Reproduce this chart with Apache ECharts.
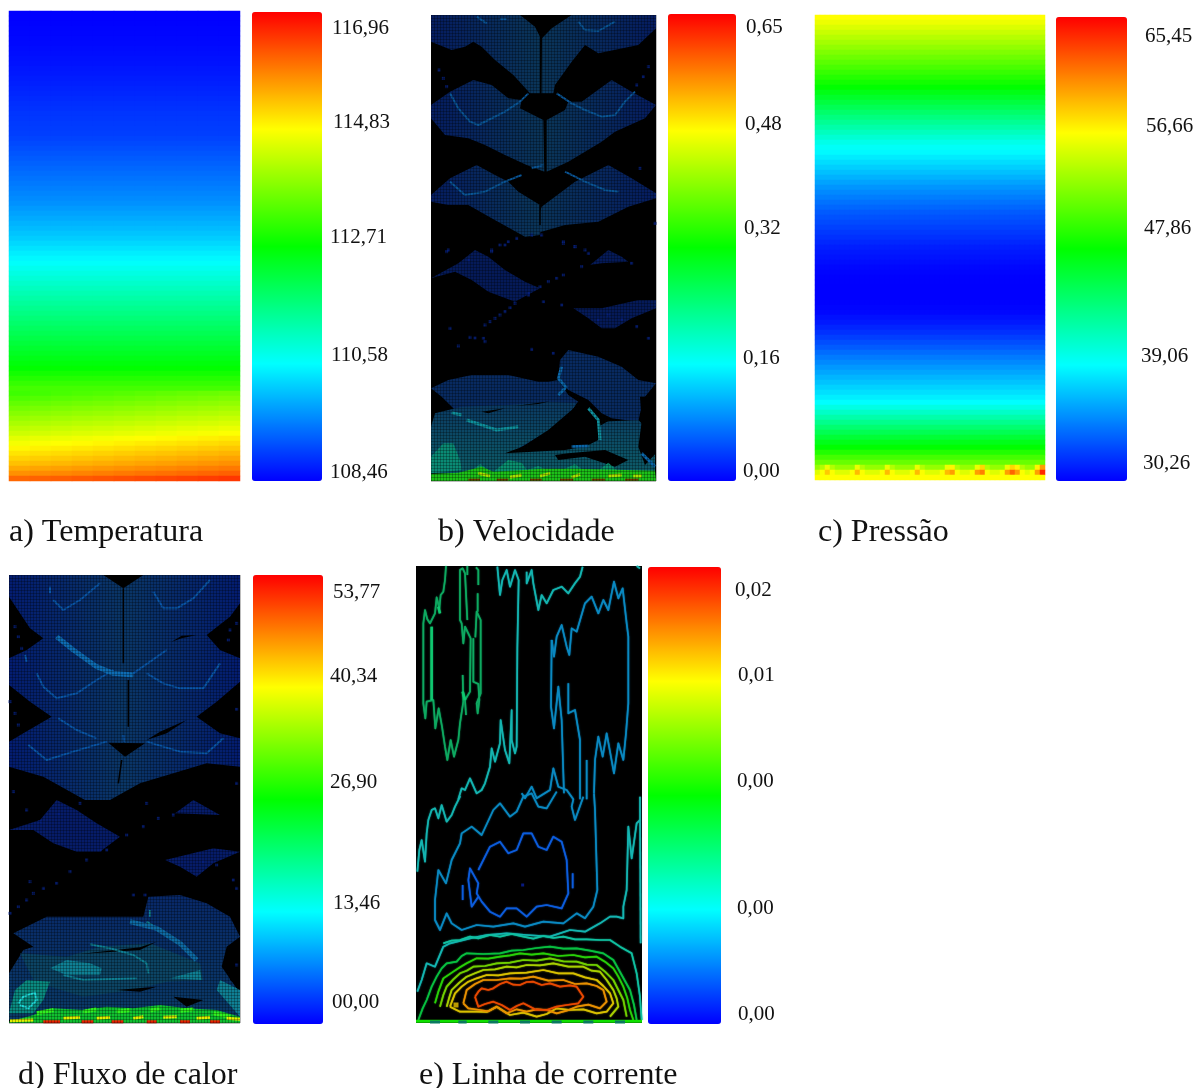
<!DOCTYPE html>
<html><head><meta charset="utf-8">
<style>html,body{margin:0;padding:0;background:#fff}#c{width:1202px;height:1088px}</style>
<script src="https://cdn.jsdelivr.net/npm/echarts@6/dist/echarts.min.js"></script>
</head><body><div id="c"></div>
<script>
/* ---------- colour scale ---------- */
const rainbow=['#0000ff','#00ffff','#00ff00','#ffff00','#ff0000'];

/* ---------- scale ticks ---------- */
const tempTicks=['116,96','114,83','112,71','110,58','108,46'];
const veloTicks=['0,65','0,48','0,32','0,16','0,00'];
const presTicks=['65,45','56,66','47,86','39,06','30,26'];
const fluxTicks=['53,77','40,34','26,90','13,46','00,00'];
const streamTicks=['0,02','0,01','0,00','0,00','0,00'];
const captions=['a) Temperatura','b) Velocidade','c) Pressão','d) Fluxo de calor','e) Linha de corrente'];

/* ---------- a) temperature, top to bottom ---------- */
const temperatureProfile=[108.46,108.47,108.48,108.49,108.5,108.52,108.53,108.55,108.57,108.59,108.61,108.64,108.66,108.69,108.72,108.75,108.78,108.81,108.84,
108.87,108.9,108.92,108.94,108.96,108.98,109.02,109.07,109.12,109.17,109.22,109.27,109.32,109.37,109.42,109.47,109.52,109.57,109.62,109.67,
109.74,109.81,109.88,109.95,110.02,110.09,110.17,110.26,110.35,110.44,110.53,110.62,110.72,110.82,110.92,111.02,111.12,111.22,111.32,111.42,111.52,111.62,
111.72,111.82,111.92,112.02,112.12,112.22,112.32,112.42,112.52,112.62,112.72,112.86,113.0,113.14,113.28,113.42,113.56,113.72,
113.87,114.02,114.17,114.32,114.47,114.62,114.8,114.95,115.1,115.25,115.4,115.55,115.75,115.95,116.3];
const temperatureTilt=[-0.2,-0.16,-0.12,-0.08,-0.04,0,0.04,0.08,0.12,0.16,0.2];

/* ---------- c) pressure, top to bottom ---------- */
const pressureProfile=[56.66,56.03,55.4,54.77,54.14,53.51,52.88,52.25,51.62,50.99,50.36,49.73,49.1,48.47,47.86,
47.13,46.4,45.67,44.94,44.21,43.48,42.75,42.02,41.29,40.56,39.83,39.3,38.9,
38.4,37.9,37.4,36.9,36.4,35.9,35.4,35,34.6,34.2,
33.8,33.4,33.1,32.8,32.5,32.2,31.9,31.6,31.3,31.1,30.9,30.7,
30.5,30.4,30.3,30.3,30.26,30.26,30.26,30.3,30.4,30.5,
30.8,31.1,31.5,31.9,32.4,32.9,33.4,34,
34.5,35,35.5,36,36.5,37,37.5,38,38.5,39.06,
40,41,42,43,44,45,46,47,47.86,
49,50.2,51.4];
const pressureBumpsUpper=[53,54,56,54,53,53,53,53,56,54,53,53,53,53,56,54,53,53,53,53,56,54,53,53,53,53,56,57,54,53,53,53,56,58,54,53,53,53,56,58,57,54,53,53,57,60];
const pressureBumpsLower=[55.5,56.5,58.5,56.5,55.5,55.5,55.5,56.5,59,56.5,55.5,55.5,55.5,56.5,59,56.5,55.5,55.5,55.5,56.5,59,56.5,55.5,55.5,55.5,56.5,59,60,56.5,55.5,55.5,56.5,60,61,56.5,55.5,55.5,56.5,60,62,60,56.5,55.5,56.5,60,64];
const pressureBase=[56.66];

/* ---------- b) velocity field regions (x, depth) ---------- */
const veloLeftPetals=[
[[18,30],[285,30],[330,65],[345,95],[345,265],[315,265],[265,210],[210,165],[170,125],[145,110],[120,125],[80,135],[18,110]],
[[18,300],[75,260],[145,225],[200,240],[250,280],[290,285],[285,310],[355,345],[358,500],[305,480],[240,450],[180,420],[130,400],[60,390],[18,340]],
[[18,570],[75,520],[155,480],[210,510],[250,530],[280,560],[345,600],[345,690],[300,695],[200,640],[130,600],[70,600],[18,590]]];
const veloRightPetals=[
[[440,30],[693,30],[693,70],[640,120],[520,145],[480,120],[440,170],[390,240],[385,265],[349,265],[351,100],[380,70]],
[[365,345],[420,315],[430,290],[470,290],[560,225],[620,260],[693,300],[660,340],[570,380],[530,410],[430,470],[365,500]],
[[350,605],[450,530],[480,515],[550,480],[620,520],[693,565],[693,580],[610,605],[520,650],[420,660],[350,680],[320,695]]];
const veloLowerNavy=[
[[18,115],[100,70],[150,30],[190,50],[240,90],[300,125],[345,145],[270,185],[190,155],[140,120],[90,95]],
[[445,205],[530,205],[640,180],[693,180],[693,205],[620,235],[570,265],[530,265],[490,235]],
[[495,75],[550,30],[590,50],[610,65],[530,70]]];
const veloLowerBlue=[
[[405,360],[430,330],[520,350],[590,380],[640,420],[693,430],[660,470],[645,520],[640,545],[560,535],[530,520],[490,480],[430,450],[400,420]],
[[18,445],[70,420],[140,405],[250,405],[340,425],[370,425],[400,420],[430,465],[460,485],[400,540],[340,600],[280,625],[100,520],[50,470]]];
const veloLowerTeal=[
[[30,520],[110,500],[250,495],[370,485],[455,490],[425,540],[340,590],[280,625],[240,640],[420,630],[480,620],[520,600],[525,545],[640,540],[690,590],[690,700],[18,700],[18,560]]];
const veloLowerBlack=[
[[285,625],[370,570],[440,510],[470,480],[510,510],[555,540],[520,560],[490,600],[430,620]],
[[390,645],[430,640],[540,630],[610,660],[570,680],[480,650],[400,660]],
[[645,470],[693,470],[693,640],[660,675],[640,620],[650,545]],
[[170,515],[240,505],[190,520]],[[270,498],[375,484],[340,492]]];
const veloHotspot=[[[18,650],[55,610],[85,610],[105,660],[110,690],[18,700]]];
const veloBumps=[[[205,695],[250,660],[290,668],[310,695]],[[400,695],[450,672],[480,695]],[[515,695],[550,668],[580,695]],[[130,700],[165,672],[205,700]],[[305,690],[340,678],[370,692]]];
const veloBand=[[[100,698],[170,680],[205,695],[300,690],[350,686],[450,686],[690,692],[693,723],[18,723],[18,702]]];
const veloBrightTop=[
[[155,35],[185,55]],[[225,42],[245,42]],[[460,50],[480,75],[520,78],[570,50]],
[[75,265],[100,310],[135,350],[160,360],[190,345],[240,320],[285,290],[310,265]],
[[395,265],[440,295],[480,315],[530,335],[570,330],[600,290],[630,260]],
[[75,530],[120,570],[180,560],[240,530],[290,510]],[[320,490],[355,480]],
[[420,500],[480,530],[540,555],[580,560]]];
const veloBlackSeams=[[[347,100],[347,265]],[[360,345],[360,470]],[[345,600],[345,660]]];
const veloDots=[[42,195],[55,220],[65,245],[670,185],[655,215],[635,240],[320,690],[275,700],[240,720],[200,740],[70,735],[350,690],[415,715],[450,725],[490,745],[645,490],[690,655]];
const veloDotsLow=[[65,35],[200,30],[225,15],[250,5],[415,5],[450,20],[480,30],[620,70],[180,255],[195,245],[210,235],[225,225],[240,215],[255,203],[270,190],[310,165],[345,140],[370,125],[395,115],[415,105],[470,80],[355,185],[410,195],[75,265],[135,292],[150,294],[175,295],[180,305],[100,318],[320,328],[385,340],[635,260],[670,295],[520,240],[550,225],[590,238],[130,60],[310,160]];
const veloTealBands=[[[125,540],[170,555],[215,570],[280,560]],[[80,518],[110,525]],[[490,505],[520,540],[525,600]]];
const veloBlueBands=[[[410,380],[400,415],[425,445]],[[400,465],[420,445]],[[440,620],[490,618]],[[650,640],[690,680]]];
const veloBandYellow=[[[160,700],[195,708]],[[255,712],[290,705]],[[345,708],[375,700]],[[440,712],[465,703]],[[550,708],[590,705]],[[625,708],[650,708]]];
const veloBandDark=[[[130,719],[165,719]],[[215,719],[250,719]],[[315,719],[350,719]],[[405,719],[445,719]],[[500,719],[540,719]],[[600,719],[640,719]]];

/* ---------- d) heat flux field regions ---------- */
const fluxBase=[[[27,15],[720,15],[720,590],[620,580],[520,610],[420,640],[330,690],[255,690],[130,620],[27,590]]];
const fluxBlack=[
[[310,15],[430,15],[370,55]],[[27,80],[90,175],[130,205],[80,240],[27,265]],[[720,100],[690,140],[620,195],[660,240],[720,265]],
[[27,345],[90,395],[155,440],[70,490],[27,515]],[[720,335],[650,395],[590,440],[660,490],[720,505]],[[325,518],[435,520],[375,560]],
[[440,510],[480,485],[560,450],[500,490]],[[515,215],[545,197],[590,195],[545,205]]];
const fluxLowerNavy=[
[[27,90],[120,60],[170,0],[230,30],[290,70],[360,110],[300,155],[230,155],[160,130],[100,90]],
[[525,40],[580,0],[660,45]],
[[495,180],[640,145],[720,155],[640,190],[590,230],[540,200]]];
const fluxLowerBlue=[[[40,400],[140,350],[430,350],[445,290],[540,285],[620,310],[690,350],[720,410],[680,440],[665,500],[720,580],[720,660],[27,660],[27,520],[70,450],[100,440]]];
const fluxLowerBlack=[[[680,490],[720,490],[720,560],[690,540]],[[350,570],[470,560],[420,575]],[[520,590],[610,600],[560,620]],[[240,462],[420,442],[470,425],[420,450]]];
const fluxLowerTeal=[[[60,460],[200,470],[300,440],[450,430],[600,490],[610,540],[500,545],[400,570],[250,590],[150,560],[100,540]]];
const fluxLowerAqua=[[[150,505],[200,480],[270,490],[305,505],[300,525],[200,525]],[[510,535],[600,510],[605,540]],[[660,540],[720,570],[720,650],[650,570]]];
const fluxHotspot=[[[27,640],[45,570],[80,540],[150,545],[130,600],[100,640]]];
const fluxBand=[[[27,665],[100,645],[160,625],[250,630],[320,620],[400,625],[480,615],[560,625],[650,630],[720,650],[720,675],[27,675]]];
const fluxBrightThin=[
[[150,50],[150,70]],[[160,90],[190,120],[240,90],[300,40]],[[460,65],[490,115],[530,115],[580,85],[630,30]],
[[400,310],[500,240]],[[110,310],[130,350],[170,385],[230,370],[290,330],[340,300]],[[440,310],[490,340],[540,355],[610,355],[660,280]],
[[175,445],[230,480],[290,505]],[[85,525],[140,570],[220,545],[320,515]],[[440,515],[540,545],[620,550],[670,505]],[[75,255],[80,275]],[[370,495],[372,515]]];
const fluxBrightThick=[[[170,200],[220,240],[290,290],[340,310],[400,315]],[[390,365],[470,385],[540,430],[590,480]]];
const fluxBlackSeams=[[[370,55],[370,280]],[[385,330],[385,470]],[[365,570],[355,640]]];
const fluxDotsLow=[[30,340],[55,320],[80,300],[100,280],[130,265],[170,250],[210,215],[260,180],[320,150],[380,105],[430,80],[475,55],[520,45],[120,65],[175,42],[300,150],[610,185],[650,195],[400,285],[435,285],[90,245],[700,240],[710,265],[710,495],[240,10],[440,10],[80,30]];
const fluxDotsTop=[[45,170],[55,200],[65,235],[685,210],[690,180],[710,160],[30,395],[45,430],[55,465],[710,418],[40,665],[710,640]];
const fluxCyanRing=[[[55,610],[70,590],[105,578],[110,600],[85,625],[60,615]]];
const fluxAquaLines=[[[190,525],[250,540],[410,535]],[[270,433],[330,445],[400,465],[440,490],[445,520]],[[450,330],[450,350]],[[440,365],[470,385]]];
const fluxYellow=[[[30,662],[100,660]],[[190,655],[240,652]],[[290,655],[330,652]],[[400,655],[430,650]],[[490,652],[530,650]],[[590,655],[630,652]],[[680,655],[720,658]]];
const fluxRed=[[[130,665],[180,665]],[[245,665],[280,665]],[[335,665],[370,665]],[[440,665],[470,665]],[[540,665],[570,665]],[[630,665],[660,665]]];
const fluxGreenSpots=[[[110,640],[160,630]],[[250,635],[290,628]],[[350,635],[390,630]],[[450,632],[480,625]],[[540,632],[580,628]],[[640,640],[690,650]]];

/* ---------- e) stream-function contours ---------- */
const streamUpperGreen=[
[[108,18],[105,60],[100,95],[92,105],[88,145],[80,112],[75,160],[60,190],[52,178],[45,150],[40,190],[40,430],[46,475],[50,425],[70,420],[76,505],[86,445],[96,500],[105,560],[112,600],[122,540],[132,590],[145,540],[150,490],[160,425],[158,345]],
[[168,465],[165,420],[180,395],[182,235],[165,200],[160,250],[155,190],[150,180],[150,30],[158,25],[165,40],[172,180]],
[[190,235],[190,365],[205,372],[208,420],[203,460],[200,430],[212,400],[212,180],[200,155],[196,232]],
[[172,18],[172,45]],[[198,22],[205,30],[205,75]],[[203,100],[203,155]]];
const streamUpperGreenThick=[[[65,200],[65,420]],[[85,140],[90,160]],[[158,395],[165,420]]];
const streamTealMid=[
[[262,20],[270,105],[277,60],[290,30],[300,80],[315,30],[326,60],[322,265],[320,560],[315,580],[305,540],[305,450],[298,610],[285,570],[272,480],[270,550],[255,605],[245,565],[240,620],[225,670],[215,690],[200,700],[180,655],[165,690],[155,685],[145,718],[150,710],[135,740],[125,765],[110,785],[95,735],[85,775],[75,745],[65,750],[55,780],[50,820],[45,905],[35,840],[28,870],[22,935]],
[[350,35],[350,70],[365,30],[370,70],[385,150],[395,105],[410,130],[430,90],[455,80],[475,100],[495,70],[510,50],[518,20]],
[[680,18],[690,25]],[[690,710],[692,1150]],
[[22,1295],[35,1260],[50,1210],[75,1220],[100,1160],[120,1150],[180,1135],[230,1125],[290,1120],[350,1125],[420,1130],[480,1110],[525,1115],[570,1090],[600,1070],[620,1070],[640,1075],[640,1040],[650,990],[655,800],[665,895],[680,790],[690,780]]];
const streamBlueUpper=[
[[425,240],[432,290],[440,230],[455,195],[470,260],[478,285],[485,205],[500,215],[525,130],[545,110],[565,160],[580,120],[595,150],[612,65],[625,115],[638,85],[650,190],[655,230],[655,430],[648,520],[640,600],[625,550],[612,640],[590,520],[578,590],[565,530],[555,600],[552,700]],
[[425,240],[423,440],[432,505],[445,380],[455,480],[460,640],[462,700]],[[475,370],[475,460],[495,450],[510,540],[510,718]],[[530,600],[530,718]],
[[335,700],[345,715],[365,680],[380,715],[420,690],[430,625],[445,680],[470,690],[490,718],[485,740],[495,780],[520,710]],[[552,700],[555,750],[562,990],[550,1040],[525,1075],[500,1060],[460,1090],[400,1085],[345,1100],[310,1090],[250,1100],[200,1095],[155,1110],[125,1090],[110,1060],[90,1110],[75,1080],[75,1020],[85,930],[108,970],[125,900],[150,850],[155,820],[185,800],[215,825],[250,750],[270,730],[300,770],[320,755],[340,710],[365,700],[385,740],[410,745],[440,695]]];
const streamDeepBlue=[
[[205,930],[240,860],[270,845],[295,880],[320,870],[340,820],[365,820],[385,860],[410,870],[430,830],[455,845],[470,900],[475,1000],[455,1045],[410,1035],[380,1040],[350,1070],[320,1045],[290,1045],[270,1070],[240,1055],[215,1025],[200,1000],[205,970],[180,925],[175,960],[185,1040],[205,1010]],
[[158,975],[158,1020]],[[488,940],[488,985]]];
const streamC1=[[100,1150],[125,1142],[150,1140],[180,1130],[205,1135],[240,1125],[270,1130],[305,1122],[340,1130],[370,1136],[400,1128],[430,1134],[460,1130],[495,1138],[530,1138],[570,1140],[600,1140],[630,1160],[665,1180],[680,1240],[690,1310],[695,1380]];
const streamC2=[[25,1380],[38,1345],[50,1320],[65,1280],[80,1250],[95,1225],[110,1210],[140,1205],[155,1188],[170,1180],[220,1182],[270,1180],[305,1172],[340,1170],[380,1164],[420,1160],[460,1166],[500,1165],[540,1172],[580,1180],[610,1200],[635,1245],[660,1290],[672,1335],[680,1380]];
const streamC3=[[75,1330],[85,1295],[100,1255],[130,1235],[150,1222],[170,1210],[200,1195],[235,1196],[270,1190],[300,1186],[330,1180],[365,1184],[400,1180],[445,1188],[490,1185],[525,1192],[560,1190],[585,1205],[610,1225],[625,1250],[640,1280],[652,1315],[660,1350],[670,1380]];
const streamC4=[[90,1340],[100,1305],[110,1280],[130,1258],[150,1240],[170,1232],[190,1220],[225,1218],[260,1210],[300,1208],[340,1200],[380,1202],[420,1195],[460,1204],[500,1205],[530,1214],[560,1215],[585,1235],[610,1260],[625,1290],[640,1320],[650,1370]];
const streamC5=[[110,1340],[118,1312],[125,1290],[148,1268],[170,1250],[195,1240],[220,1230],[255,1228],[290,1220],[320,1222],[350,1215],[390,1216],[430,1210],[475,1220],[520,1220],[545,1232],[570,1235],[590,1260],[610,1290],[620,1315],[625,1340],[600,1370]];
const streamC6=[[120,1340],[135,1300],[155,1280],[175,1265],[200,1255],[230,1245],[265,1246],[300,1240],[350,1238],[400,1230],[445,1240],[490,1240],[525,1252],[560,1260],[580,1278],[600,1300],[610,1330],[590,1355],[560,1360],[520,1348],[480,1350],[440,1345],[410,1362],[380,1370],[340,1358],[300,1365],[260,1340],[230,1356],[200,1355],[150,1355],[120,1340]];
const streamC7=[[160,1330],[170,1290],[195,1272],[220,1260],[260,1260],[300,1255],[335,1256],[370,1250],[415,1262],[460,1260],[495,1272],[530,1270],[560,1278],[580,1290],[590,1325],[570,1345],[535,1334],[500,1340],[470,1352],[440,1360],[410,1350],[380,1348],[350,1355],[320,1348],[290,1360],[260,1340],[235,1354],[210,1350],[175,1345],[160,1330]];
const streamC8=[[195,1310],[205,1295],[215,1285],[235,1290],[250,1285],[270,1272],[290,1265],[310,1274],[330,1275],[350,1266],[370,1265],[395,1275],[420,1270],[450,1280],[480,1276],[500,1280],[520,1310],[505,1330],[470,1335],[440,1340],[410,1350],[375,1348],[340,1330],[320,1338],[300,1350],[275,1335],[250,1325],[225,1332],[205,1340],[195,1310]];
const streamFloor=[[[18,1384],[696,1384]]];
const streamFloorDark=[[[60,1386],[90,1386]],[[145,1386],[170,1386]],[[235,1386],[265,1386]],[[330,1386],[360,1386]],[[425,1386],[455,1386]],[[520,1386],[550,1386]],[[615,1386],[645,1386]]];
const streamEye=[[338,975]];
const streamYellowDot=[[138,1335]];

/* ---------- layout (not data) ---------- */
const P={
 a:{l:9,t:11,w:231,h:470},b:{l:431,t:15,w:225,h:466},c:{l:815,t:15,w:230,h:465},d:{l:9,t:575,w:231,h:448},e:{l:416,t:566,w:226,h:457}};
const serif='"Liberation Serif","Times New Roman",serif';
const shiftDown=(list,dy)=>list.map(p=>p.map(([x,y])=>[x,y+dy]));
const shiftDots=(list,dy)=>list.map(([x,y])=>[x,y+dy]);
const LOWB=705, LOWD=690;

const grid=[],xAxis=[],yAxis=[],series=[];
function addHeat(p,rows,cols){
  const i=grid.length;
  grid.push({left:p.l,top:p.t,width:p.w,height:p.h,show:false});
  xAxis.push({type:'category',gridIndex:i,show:false,data:Array.from({length:cols},(_,k)=>k)});
  yAxis.push({type:'category',gridIndex:i,show:false,inverse:true,data:rows.map((_,k)=>k)});
  const data=[];
  rows.forEach((r,y)=>{for(let x=0;x<cols;x++){data.push([x,y,r.length===1?r[0]:r[x]]);}});
  series.push({type:'heatmap',xAxisIndex:i,yAxisIndex:i,data,silent:true,animation:false,progressive:0,itemStyle:{borderWidth:0},emphasis:{disabled:true}});
}
function addField(p,xr,yr,cell){
  const i=grid.length;
  grid.push({left:p.l,top:p.t,width:p.w,height:p.h,show:true,backgroundColor:'#000',borderWidth:0});
  const base={show:true,type:'value',gridIndex:i,z:cell?10:0,axisLine:{show:false},axisTick:{show:false},axisLabel:{show:false},
    splitLine:{show:!!cell,lineStyle:{color:'rgba(0,0,0,0.26)',width:1}}};
  xAxis.push({...base,min:xr[0],max:xr[1],interval:cell||undefined});
  yAxis.push({...base,min:yr[0],max:yr[1],inverse:true,interval:cell||undefined});
  return i;
}
function polys(i,list,fill){
  series.push({type:'custom',xAxisIndex:i,yAxisIndex:i,coordinateSystem:'cartesian2d',silent:true,animation:false,clip:true,
    data:list.map((_,k)=>[k]),
    renderItem:(params,api)=>({type:'polygon',shape:{points:list[params.dataIndex].map(q=>api.coord(q))},style:{fill}})});
}
function lines(i,list,color,width,glow){
  list.forEach(d=>series.push({type:'line',xAxisIndex:i,yAxisIndex:i,data:d,showSymbol:false,symbol:'none',silent:true,animation:false,smooth:false,
    lineStyle:{color,width,join:'round',shadowBlur:glow||0,shadowColor:color},emphasis:{disabled:true}}));
}
function dots(i,d,color,size){
  series.push({type:'scatter',xAxisIndex:i,yAxisIndex:i,data:d,symbol:'rect',symbolSize:size,silent:true,animation:false,itemStyle:{color},emphasis:{disabled:true}});
}
const hGrad=(a,b)=>({type:'linear',x:0,y:0,x2:1,y2:0,colorStops:[{offset:0,color:a},{offset:1,color:b}]});
const vGrad=(a,b)=>({type:'linear',x:0,y:0,x2:0,y2:1,colorStops:[{offset:0,color:a},{offset:1,color:b}]});

/* a) and c) heatmaps */
const tempRows=temperatureProfile.map((v,r)=>r>=76?temperatureTilt.map(o=>v+o):[v]);
addHeat(P.a,tempRows,temperatureTilt.length);
const presRows=[...pressureProfile.map(v=>[v]),pressureBumpsUpper,pressureBumpsLower,pressureBase];
addHeat(P.c,presRows,pressureBumpsUpper.length);

/* b) */
const gb=addField(P.b,[18,693],[30,1428],9);
polys(gb,veloLeftPetals,hGrad('#051c60','#0a3558'));
polys(gb,veloRightPetals,hGrad('#0a3558','#051c60'));
polys(gb,shiftDown(veloLowerNavy,LOWB),'#051a58');
polys(gb,shiftDown(veloLowerBlue,LOWB),'#082a60');
polys(gb,shiftDown(veloLowerTeal,LOWB),vGrad('#0a3862','#0d5c68'));
polys(gb,shiftDown(veloLowerBlack,LOWB),'#000');
lines(gb,veloBlackSeams,'#000',1.5);
lines(gb,veloBrightTop,'#0a5596',2);
lines(gb,shiftDown(veloTealBands,LOWB),'#0f8f9c',3);
lines(gb,shiftDown(veloBlueBands,LOWB),'#0b66a8',3);
dots(gb,[...veloDots,...shiftDots(veloDotsLow,LOWB)],'#06207e',3);
polys(gb,shiftDown(veloHotspot,LOWB),'#0a8a74');
polys(gb,shiftDown(veloBumps,LOWB),'#0a9070');
polys(gb,shiftDown(veloBand,LOWB),'#1cc018');
lines(gb,shiftDown(veloBandYellow,LOWB),'#a8e000',3);
lines(gb,shiftDown(veloBandDark,LOWB),'#6e3a00',2);

/* d) */
const gd=addField(P.d,[27,720],[15,1359],9);
polys(gd,fluxBase,{type:'linear',x:0,y:0,x2:1,y2:0,colorStops:[{offset:0,color:'#031c70'},{offset:.5,color:'#0a3666'},{offset:1,color:'#031c70'}]});
polys(gd,fluxBlack,'#000');
lines(gd,fluxBlackSeams,'#000',1.5);
lines(gd,fluxBrightThin,'#0a56a8',2);
lines(gd,[fluxBrightThick[0]],'#0e6cb4',5);
polys(gd,shiftDown(fluxLowerNavy,LOWD),'#061c68');
polys(gd,shiftDown(fluxLowerBlue,LOWD),vGrad('#082868','#0a3a66'));
polys(gd,shiftDown(fluxLowerTeal,LOWD),'#0c4464');
polys(gd,shiftDown(fluxLowerBlack,LOWD),'#000');
polys(gd,shiftDown(fluxLowerAqua,LOWD),'#0f7f94');
lines(gd,shiftDown(fluxAquaLines,LOWD),'#0f7f94',2);
lines(gd,shiftDown([fluxBrightThick[1]],LOWD),'#0e6aa4',5);
dots(gd,[...fluxDotsTop,...shiftDots(fluxDotsLow,LOWD)],'#06207e',3);
polys(gd,shiftDown(fluxHotspot,LOWD),'#0a8a80');
lines(gd,shiftDown(fluxCyanRing,LOWD),'#20d8d8',2);
polys(gd,shiftDown(fluxBand,LOWD),'#10c030');
lines(gd,shiftDown(fluxGreenSpots,LOWD),'#30f020',4);
lines(gd,shiftDown(fluxYellow,LOWD),'#e0f000',3);
lines(gd,shiftDown(fluxRed,LOWD),'#e82000',3);

/* e) */
const ge=addField(P.e,[18,696],[18,1389],0);
const cw=1.7, cg=1.5;
lines(ge,streamUpperGreen,'#0ea860',cw,cg);
lines(ge,streamUpperGreenThick,'#10c870',2.5,cg);
lines(ge,streamTealMid,'#14b4b0',cw,cg);
lines(ge,streamBlueUpper,'#0a88c0',cw,cg);
lines(ge,streamDeepBlue,'#0c5cdc',cw,cg);
lines(ge,[streamC1],'#10c0a0',cw,cg);
lines(ge,[streamC2],'#08c040',cw,cg);
lines(ge,[streamC3],'#28d008',cw,cg);
lines(ge,[streamC4],'#70d000',cw,cg);
lines(ge,[streamC5],'#a8d000',cw,cg);
lines(ge,[streamC6],'#d8c000',cw,cg);
lines(ge,[streamC7],'#e89000',cw,cg);
lines(ge,[streamC8],'#e84800',cw,cg);
lines(ge,streamFloor,'#10e000',3);
lines(ge,streamFloorDark,'#0a7a60',3);
dots(ge,streamEye,'#0a20a0',3);
dots(ge,streamYellowDot,'#e8c000',5);

/* colour bars */
const bars=[
 {s:[0],min:108.46,max:116.96,l:252,t:12,w:70,h:469},
 {s:[],min:0,max:0.65,l:668,t:14,w:68,h:467},
 {s:[1],min:30.26,max:65.45,l:1056,t:17,w:71,h:464},
 {s:[],min:0,max:53.77,l:253,t:575,w:70,h:449},
 {s:[],min:0,max:0.02,l:648,t:567,w:73,h:457}];
const visualMap=bars.map(b=>({type:'continuous',seriesIndex:b.s,min:b.min,max:b.max,left:b.l,top:b.t,itemWidth:b.w,itemHeight:b.h,padding:0,
  calculable:false,hoverLink:false,showLabel:false,text:null,borderRadius:0,itemStyle:{borderRadius:0},inRange:{color:rainbow}}));

/* text */
const labelSpots=[
 [tempTicks,[[332,27],[333,121],[330,236],[331,354],[330,471]]],
 [veloTicks,[[746,26],[745,123],[744,227],[743,357],[743,470]]],
 [presTicks,[[1145,35],[1146,125],[1144,227],[1141,355],[1143,462]]],
 [fluxTicks,[[333,591],[330,675],[330,781],[333,902],[332,1001]]],
 [streamTicks,[[735,589],[738,674],[737,780],[737,907],[738,1013]]]];
const graphic=[];
labelSpots.forEach(([t,s])=>t.forEach((txt,i)=>graphic.push({type:'text',left:s[i][0],top:s[i][1]-9,silent:true,style:{text:txt,font:'21px '+serif,fill:'#111'}})));
[[9,531],[438,531],[818,531],[18,1074],[419,1074]].forEach((s,i)=>graphic.push({type:'text',left:s[0],top:s[1]-14,silent:true,style:{text:captions[i],font:'32px '+serif,fill:'#111'}}));

const chart=echarts.init(document.getElementById('c'),null,{renderer:'canvas',width:1202,height:1088});
chart.setOption({animation:false,backgroundColor:'#fff',tooltip:{show:false},grid,xAxis,yAxis,visualMap,series,graphic});
</script></body></html>
